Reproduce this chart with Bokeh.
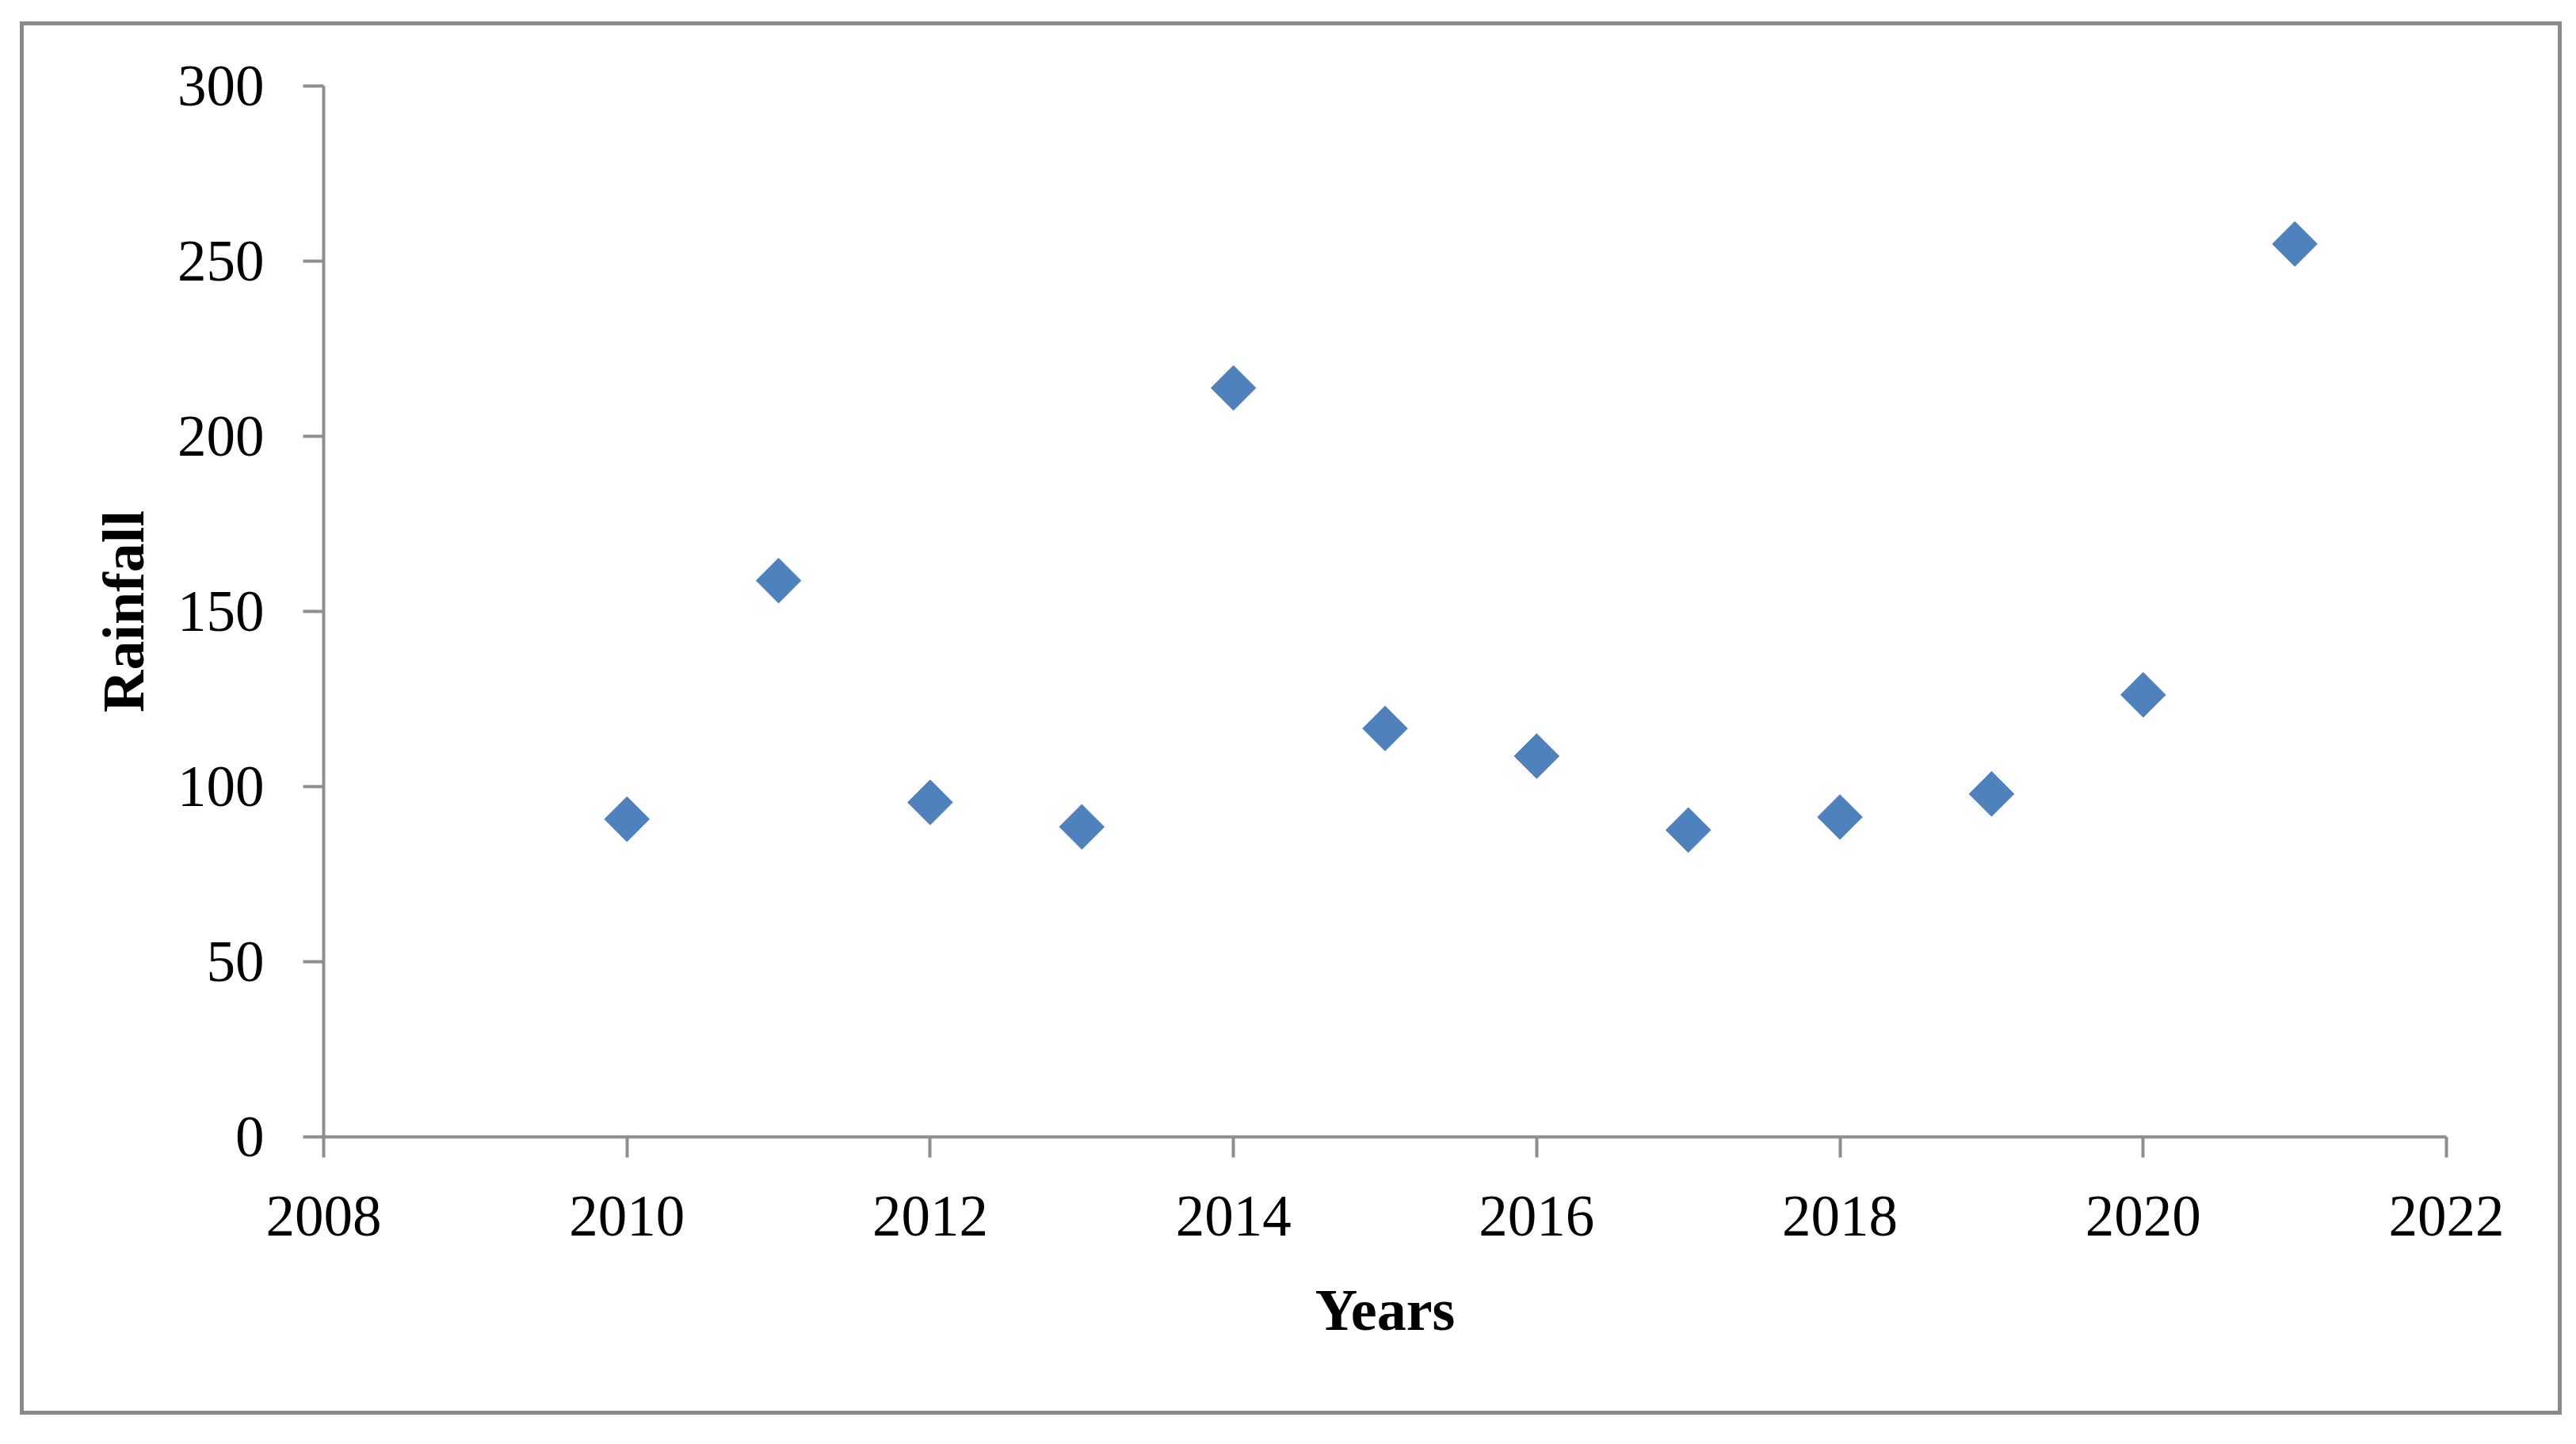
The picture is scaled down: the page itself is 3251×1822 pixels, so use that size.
from bokeh.plotting import figure
from bokeh.embed import file_html
from bokeh.resources import INLINE
from bokeh.models import Range1d, FixedTicker
import math

# Data
years = [2010, 2011, 2012, 2013, 2014, 2015, 2016, 2017, 2018, 2019, 2020, 2021]
rainfall = [90.7, 158.8, 95.5, 88.5, 213.8, 116.6, 108.7, 87.6, 91.3, 97.9, 126.2, 254.9]
x_ticks = [2008, 2010, 2012, 2014, 2016, 2018, 2020, 2022]
y_ticks = [0, 50, 100, 150, 200, 250, 300]

FONT = "Liberation Serif"
AXIS_COLOR = "#8e8e8e"

p = figure(width=3208, height=1758, output_backend="svg", toolbar_location=None,
           x_range=Range1d(2008, 2022), y_range=Range1d(0, 300),
           min_border_left=378, min_border_right=151, min_border_top=76, min_border_bottom=356)
p.styles = {"border": "5px solid #8a8a8a", "margin-left": "25px", "margin-top": "27px"}

p.scatter(years, rainfall, marker="square", size=40, angle=math.pi / 4,
          fill_color="#4F81BD", line_color="#4F81BD", line_width=1)

p.xgrid.visible = False
p.ygrid.visible = False
p.outline_line_color = None
p.background_fill_color = "white"
p.border_fill_color = "white"

for ax in (p.xaxis[0], p.yaxis[0]):
    ax.axis_line_color = AXIS_COLOR
    ax.axis_line_width = 4
    ax.major_tick_line_color = AXIS_COLOR
    ax.major_tick_line_width = 4
    ax.major_tick_in = 0
    ax.major_tick_out = 26
    ax.minor_tick_line_color = None
    ax.major_label_text_font = FONT
    ax.major_label_text_font_size = "73px"
    ax.major_label_text_color = "black"
    ax.axis_label_text_font = FONT
    ax.axis_label_text_font_size = "74px"
    ax.axis_label_text_font_style = "bold"
    ax.axis_label_text_color = "black"

p.xaxis[0].ticker = FixedTicker(ticks=x_ticks)
p.yaxis[0].ticker = FixedTicker(ticks=y_ticks)
p.xaxis[0].axis_label = "Years"
p.yaxis[0].axis_label = "Rainfall"
p.xaxis[0].major_label_standoff = 49
p.yaxis[0].major_label_standoff = 49
p.xaxis[0].axis_label_standoff = 50
p.yaxis[0].axis_label_standoff = 24

open("out.html", "w").write(file_html(p, INLINE))
